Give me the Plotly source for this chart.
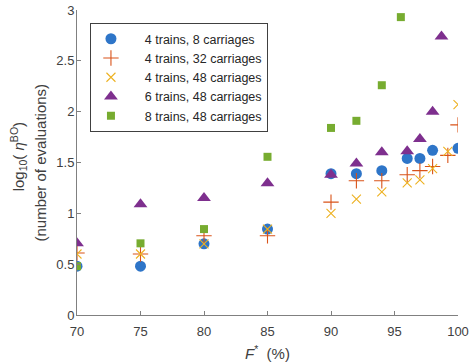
import plotly.graph_objects as go

names = ["4 trains, 8 carriages", "4 trains, 32 carriages", "4 trains, 48 carriages",
         "6 trains, 48 carriages", "8 trains, 48 carriages"]

x_a = [70, 75, 80, 85, 90, 92, 94, 96, 97, 98, 100]
y_a = [0.48, 0.48, 0.70, 0.845, 1.39, 1.39, 1.42, 1.54, 1.54, 1.62, 1.64]

x_b = [70, 75, 80, 85, 90, 92, 94, 96, 97, 98, 99.2, 100]
y_b = [0.61, 0.60, 0.78, 0.78, 1.11, 1.32, 1.32, 1.38, 1.42, 1.46, 1.57, 1.87]

x_c = [70, 75, 80, 85, 90, 92, 94, 96, 97, 98, 99.2, 100]
y_c = [0.60, 0.60, 0.70, 0.845, 1.00, 1.14, 1.21, 1.30, 1.33, 1.44, 1.61, 2.07]

x_d = [70, 75, 80, 85, 90, 92, 94, 96, 97, 98, 98.7]
y_d = [0.705, 1.09, 1.15, 1.295, 1.38, 1.49, 1.60, 1.61, 1.73, 2.00, 2.74]

x_e = [70, 75, 80, 85, 90, 92, 94, 95.5]
y_e = [0.48, 0.705, 0.845, 1.556, 1.84, 1.91, 2.26, 2.93]

colors = ["#2E75C8", "#D95319", "#EDB120", "#7E2F8E", "#77AC30"]
symbols = ["circle", "cross-thin-open", "x-thin-open", "triangle-up", "square"]
sizes = [11, 11, 9, 12, 8]

series = [(x_a, y_a), (x_b, y_b), (x_c, y_c), (x_d, y_d), (x_e, y_e)]

pad = "\u00a0" * 4

fig = go.Figure()
for i, (xs, ys) in enumerate(series):
    marker = dict(color=colors[i], symbol=symbols[i], size=sizes[i])
    if "open" in symbols[i]:
        marker["line"] = dict(color=colors[i], width=1.1)
    else:
        marker["line"] = dict(width=0)
    fig.add_trace(go.Scatter(x=xs, y=ys, mode="markers", name=pad + names[i], marker=marker))

axis_common = dict(showline=True, linecolor="#808080", linewidth=1, ticks="inside",
                   ticklen=4, tickcolor="#808080", showgrid=False, zeroline=False,
                   tickfont=dict(family="Liberation Sans, Arial", size=13, color="#404040"),
                   mirror=False)

title_font = dict(family="Liberation Sans, Arial", size=15, color="#404040")

fig.update_layout(
    width=473, height=362,
    margin=dict(l=77, r=15, t=10, b=47, autoexpand=False),
    plot_bgcolor="white", paper_bgcolor="white",
    font=dict(family="Liberation Sans, Arial", color="#404040"),
    xaxis=dict(range=[70, 100], tickvals=[70, 75, 80, 85, 90, 95, 100],
               ticklabelstandoff=4, **axis_common),
    yaxis=dict(range=[0, 3], tickvals=[0, 0.5, 1, 1.5, 2, 2.5, 3],
               ticktext=["0", "0.5", "1", "1.5", "2", "2.5", "3"],
               ticklabelstandoff=-1, **axis_common),
    legend=dict(x=0.034, y=0.957, xanchor="left", yanchor="top",
                bordercolor="#404040", borderwidth=1, bgcolor="white",
                font=dict(family="Liberation Sans, Arial", size=12.5, color="#262626"),
                tracegroupgap=0, itemsizing="trace"),
    showlegend=True,
    annotations=[
        dict(text="<i>F</i><sup>*</sup>  (%)", xref="paper", yref="paper", x=0.5, y=-0.122,
             xanchor="center", yanchor="middle", showarrow=False, font=title_font),
        dict(text="log<sub>10</sub>( <i>η</i><sup>BO</sup>)", xref="paper", yref="paper",
             x=-0.155, y=0.52, xanchor="center", yanchor="middle", textangle=-90,
             showarrow=False, font=title_font),
        dict(text="(number of evaluations)", xref="paper", yref="paper",
             x=-0.0945, y=0.5, xanchor="center", yanchor="middle", textangle=-90,
             showarrow=False, font=title_font),
    ],
)

fig.write_html("out.html")
